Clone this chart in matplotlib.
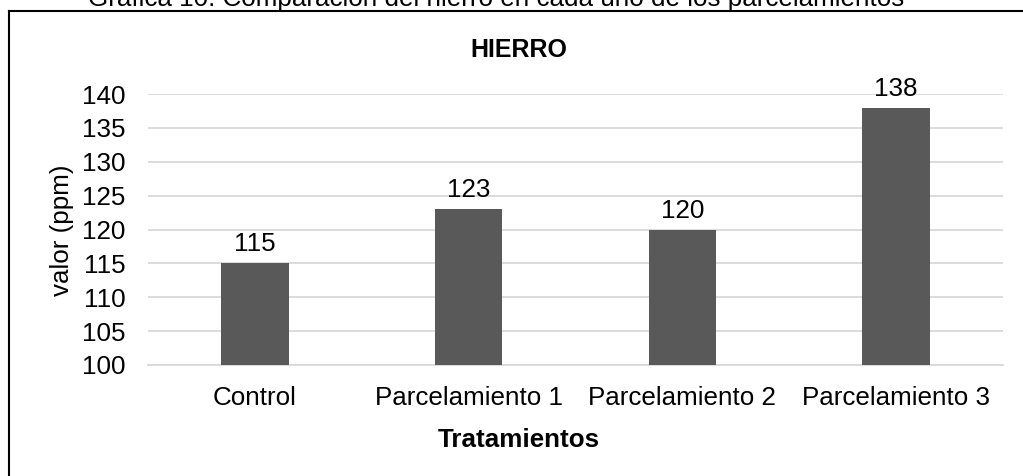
import matplotlib.pyplot as plt
from matplotlib.lines import Line2D

plt.rcParams['font.family'] = ['Liberation Sans', 'DejaVu Sans']

categories = ['Control', 'Parcelamiento 1', 'Parcelamiento 2', 'Parcelamiento 3']
values = [115, 123, 120, 138]
yticks = [100, 105, 110, 115, 120, 125, 130, 135, 140]

W, H = 1023, 476
fig = plt.figure(figsize=(W / 100, H / 100), dpi=100)
ax = fig.add_axes([148 / W, 1 - 365 / H, (1003 - 148) / W, (365 - 94) / H])

x = range(len(categories))
bars = ax.bar(x, values, width=0.315, color='#595959', zorder=3)

ax.set_ylim(100, 140)
ax.set_xlim(-0.5, len(categories) - 0.5)
ax.set_yticks(yticks)
ax.set_xticks(list(x))
ax.set_xticklabels(categories)
ax.tick_params(axis='both', length=0, labelsize=18.7, colors='#000000')
ax.tick_params(axis='y', pad=16)
ax.tick_params(axis='x', pad=15)
ax.grid(axis='y', color='#d9d9d9', linewidth=1.3, zorder=0)
for side in ['top', 'right', 'left']:
    ax.spines[side].set_visible(False)
ax.spines['bottom'].set_color('#d9d9d9')
ax.spines['bottom'].set_linewidth(1.3)

for xi, v in zip(x, values):
    ax.annotate(str(v), (xi, v), xytext=(0, 5), textcoords='offset points',
                ha='center', va='bottom', fontsize=18.7)

fig.text(62 / W, 1 - 230 / H, 'valor (ppm)', rotation=90, ha='center', va='center', fontsize=18.7)
fig.text(519 / W, 1 - 447 / H, 'Tratamientos', ha='center', va='baseline',
         fontsize=18.7, fontweight='bold')
fig.text(519 / W, 1 - 57 / H, 'HIERRO', ha='center', va='baseline',
         fontsize=18, fontweight='bold')
fig.text(496.5 / W, 1 - 6 / H, 'Gráfica 10: Comparación del hierro en cada uno de los parcelamientos',
         ha='center', va='baseline', fontsize=18.7)

# chart border (only top and left visible in crop)
fig.add_artist(Line2D([8.5 / W, 8.5 / W], [0, 1 - 11 / H], transform=fig.transFigure,
                      color='#000000', linewidth=1.5))
fig.add_artist(Line2D([8.5 / W, 1], [1 - 11 / H, 1 - 11 / H], transform=fig.transFigure,
                      color='#000000', linewidth=1.5))

fig.savefig('out.png', dpi=100)
